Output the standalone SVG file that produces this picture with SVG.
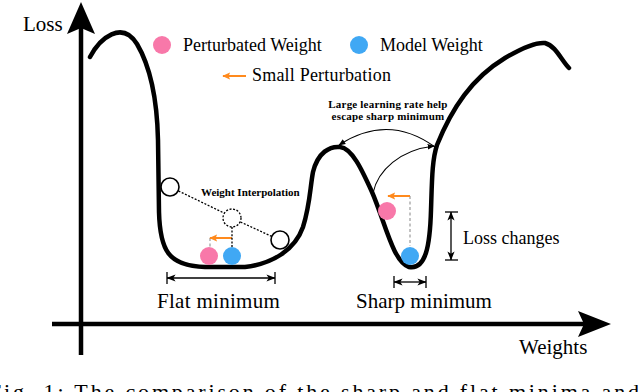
<svg xmlns="http://www.w3.org/2000/svg" width="640" height="392" viewBox="0 0 640 392">
<style>
.serif{font-family:"Liberation Serif","Times New Roman",serif;fill:#000}
.big{font-size:21px}
.mid{font-size:18px}
.bold{font-size:11px;font-weight:bold}
.curve{fill:none;stroke:#000;stroke-width:4.5;stroke-linecap:round;stroke-linejoin:round}
.axis{fill:none;stroke:#000;stroke-width:4.5}
.thin{fill:none;stroke:#000;stroke-width:1.1}
.dim{fill:none;stroke:#000;stroke-width:1.3}
.dot{fill:none;stroke:#000;stroke-width:1.3;stroke-dasharray:2,1.6}
.gdash{fill:none;stroke:#9a9a9a;stroke-width:1.2;stroke-dasharray:3,2.5}
.orange{fill:none;stroke:#ff8a1d;stroke-width:2}
.pink{fill:#f878a9}
.blue{fill:#40a8f4}
.open{fill:#fff;stroke:#000;stroke-width:1.6}
</style>
<defs>
<marker id="ah" viewBox="0 0 10 10" refX="9" refY="5" markerWidth="7" markerHeight="7" orient="auto-start-reverse" markerUnits="userSpaceOnUse">
<path d="M0,1 L10,5 L0,9 z" fill="#000"/>
</marker>
<marker id="dh" viewBox="0 0 10 10" refX="9.5" refY="5" markerWidth="9" markerHeight="9" orient="auto-start-reverse" markerUnits="userSpaceOnUse">
<path d="M0,1 L10,5 L0,9 L2.5,5 z" fill="#000"/>
</marker>
<marker id="oh" viewBox="0 0 10 10" refX="9" refY="5" markerWidth="8" markerHeight="8" orient="auto" markerUnits="userSpaceOnUse">
<path d="M0,0.5 L10,5 L0,9.5 L2,5 z" fill="#ff8a1d"/>
</marker>
</defs>

<g id="axes">
<line class="axis" x1="81" y1="26" x2="81" y2="355"/>
<polygon points="81,2 95,34 81,28 67,34" fill="#000"/>
<line class="axis" x1="52" y1="324" x2="586" y2="324"/>
<polygon points="611,324 578,311 584,324 578,337" fill="#000"/>
<text class="serif big" x="23" y="31">Loss</text>
<text class="serif big" x="519" y="354">Weights</text>
</g>

<g id="landscape">
<path class="curve" d="M90,57 C100,38 122,20 137,44 C150,66 157,95 158,140 L159,212 C160,250 168,266 205,267 L245,267 C272,264 295,250 303,227 C310,205 310,188 313,172 C318,152 330,146 340,147 C352,148 362,170 372,192 C385,222 393,262 409,267 C426,270 430,245 431,210 C432,180 432,160 437,145 C452,108 472,78 505,58 C522,48 535,42 545,43 C556,46 561,60 569,68"/>
</g>

<g id="legend">
<circle class="pink" cx="162" cy="45" r="9"/>
<text class="serif mid" x="183" y="51">Perturbated Weight</text>
<circle class="blue" cx="359" cy="45" r="9"/>
<text class="serif mid" x="380" y="51">Model Weight</text>
<line class="orange" x1="246" y1="76" x2="223" y2="76" marker-end="url(#oh)"/>
<text class="serif mid" x="252" y="81" letter-spacing="0.2">Small Perturbation</text>
</g>

<g id="flat-minimum">
<circle class="open" cx="170" cy="187" r="9"/>
<circle class="open" cx="280" cy="240" r="9"/>
<circle cx="232" cy="218" r="9" class="dot" fill="#fff"/>
<text class="serif bold" x="201" y="196">Weight Interpolation</text>
<line class="gdash" x1="210" y1="238" x2="210" y2="247"/>
<line class="orange" x1="232" y1="238" x2="210" y2="238" marker-end="url(#oh)"/>
<circle class="pink" cx="209" cy="256" r="9"/>
<circle class="blue" cx="232" cy="256" r="9"/>
<line class="dim" x1="167" y1="272" x2="167" y2="284"/>
<line class="dim" x1="275" y1="272" x2="275" y2="284"/>
<text class="serif big" x="157" y="308" letter-spacing="0.3">Flat minimum</text>
</g>

<g id="sharp-minimum">
<circle class="pink" cx="387" cy="211" r="9"/>
<circle class="blue" cx="410" cy="256" r="9"/>
<line class="dim" x1="394" y1="276" x2="394" y2="288"/>
<line class="dim" x1="426" y1="276" x2="426" y2="288"/>
<text class="serif big" x="356" y="308">Sharp minimum</text>
<line class="dim" x1="445" y1="212" x2="458" y2="212"/>
<line class="dim" x1="445" y1="260" x2="458" y2="260"/>
<text class="serif mid" x="463" y="244">Loss changes</text>
<text class="serif bold" x="388" y="108" text-anchor="middle" letter-spacing="0.2">Large learning rate help</text>
<text class="serif bold" x="388" y="120" text-anchor="middle" letter-spacing="0.2">escape sharp minimum</text>
</g>

<g id="connectors">
<line class="dot" x1="178.5" y1="191" x2="224" y2="213"/>
<line class="dot" x1="240.5" y1="222" x2="272" y2="236.5"/>
<line class="dot" x1="232" y1="227" x2="232" y2="247"/>
<line class="gdash" x1="410" y1="196" x2="410" y2="246"/>
<line class="orange" x1="410" y1="196" x2="388" y2="196" marker-end="url(#oh)"/>
<line class="dim" x1="167" y1="278" x2="275" y2="278" marker-start="url(#dh)" marker-end="url(#dh)"/>
<line class="dim" x1="394" y1="282" x2="426" y2="282" marker-start="url(#dh)" marker-end="url(#dh)"/>
<line class="dim" x1="451" y1="212" x2="451" y2="260" marker-start="url(#dh)" marker-end="url(#dh)"/>
<path class="thin" d="M435,147 Q388,113 339,145" marker-end="url(#ah)"/>
<path class="thin" d="M373,193 C378,170 400,150 434,146" marker-end="url(#ah)"/>
</g>

<g id="caption">
<text class="serif" font-size="22" x="-11" y="399" textLength="650" lengthAdjust="spacing">Fig. 1: The comparison of the sharp and flat minima and</text>
</g>
</svg>
